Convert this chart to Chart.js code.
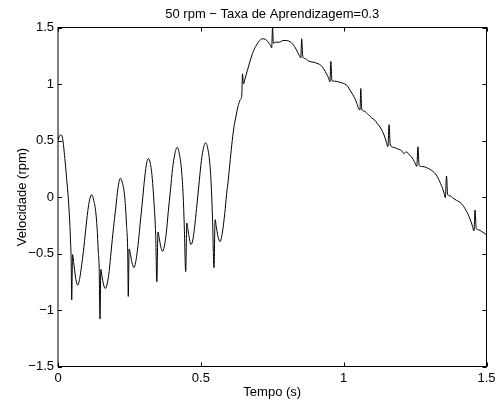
<!DOCTYPE html>
<html>
<head>
<meta charset="utf-8">
<script src="https://cdn.jsdelivr.net/npm/chart.js@4"></script>
<style>
  body { margin: 0; background: #fff; }
</style>
</head>
<body>
<canvas id="grafico" width="503" height="403"></canvas>
<script>
// valores
const tempo = [
  0.000, 0.005, 0.010, 0.016, 0.024, 0.030, 0.036, 0.041, 0.044, 0.046, 0.048, 0.051, 0.055, 0.062, 0.069, 0.076, 0.083, 0.089, 0.097,
  0.104, 0.111, 0.118, 0.125, 0.132, 0.137, 0.141, 0.144, 0.147, 0.150, 0.154, 0.159, 0.165, 0.172, 0.179, 0.186, 0.194,
  0.202, 0.210, 0.218, 0.226, 0.234, 0.240, 0.244, 0.246, 0.249, 0.253, 0.259, 0.266, 0.273, 0.280, 0.287, 0.295,
  0.302, 0.309, 0.316, 0.323, 0.330, 0.336, 0.342, 0.346, 0.350, 0.354, 0.360, 0.366, 0.372, 0.379, 0.386, 0.394,
  0.401, 0.409, 0.417, 0.425, 0.433, 0.438, 0.442, 0.447, 0.451, 0.455, 0.460, 0.465, 0.472, 0.478, 0.485, 0.493,
  0.500, 0.508, 0.517, 0.525, 0.532, 0.537, 0.541, 0.546, 0.550, 0.554, 0.560, 0.567, 0.575, 0.584, 0.590, 0.596,
  0.603, 0.610, 0.616, 0.622, 0.630, 0.638, 0.643, 0.646, 0.649, 0.655, 0.663, 0.672, 0.684, 0.695, 0.706, 0.716,
  0.726, 0.736, 0.744, 0.748, 0.751, 0.754, 0.762, 0.775, 0.788, 0.800, 0.812, 0.823, 0.833, 0.841, 0.847, 0.850,
  0.853, 0.857, 0.865, 0.876, 0.888, 0.899, 0.910, 0.920, 0.930, 0.940, 0.947, 0.952, 0.955, 0.959, 0.968, 0.981,
  0.993, 1.004, 1.014, 1.022, 1.031, 1.039, 1.046, 1.053, 1.057, 1.060, 1.063, 1.072, 1.086, 1.098, 1.109, 1.118,
  1.127, 1.136, 1.144, 1.150, 1.155, 1.159, 1.163, 1.175, 1.185, 1.195, 1.203, 1.211, 1.220, 1.229, 1.237, 1.244,
  1.250, 1.256, 1.260, 1.264, 1.275, 1.290, 1.302, 1.313, 1.323, 1.331, 1.339, 1.346, 1.352, 1.356, 1.360, 1.364,
  1.372, 1.383, 1.395, 1.407, 1.416, 1.424, 1.432, 1.439, 1.446, 1.451, 1.456, 1.460, 1.464, 1.472, 1.483, 1.492, 1.500
];
const velocidade = [
  0.50, 0.54, 0.55, 0.52, 0.34, 0.17, -0.01, -0.22, -0.40, -0.55, -0.91, -0.51, -0.58, -0.72, -0.78, -0.72, -0.60, -0.48, -0.29,
  -0.13, -0.02, 0.02, -0.03, -0.13, -0.28, -0.48, -0.62, -1.08, -0.64, -0.70, -0.77, -0.81, -0.77, -0.66, -0.48, -0.28,
  -0.10, 0.08, 0.165, 0.12, -0.01, -0.25, -0.48, -0.88, -0.46, -0.50, -0.58, -0.625, -0.56, -0.43, -0.25, -0.05,
  0.135, 0.28, 0.34, 0.30, 0.165, -0.05, -0.34, -0.75, -0.31, -0.36, -0.44, -0.48, -0.44, -0.32, -0.13, 0.07,
  0.25, 0.38, 0.44, 0.38, 0.22, 0.02, -0.25, -0.66, -0.23, -0.29, -0.37, -0.42, -0.38, -0.27, -0.10, 0.10,
  0.28, 0.42, 0.48, 0.42, 0.28, 0.07, -0.20, -0.625, -0.20, -0.26, -0.35, -0.395, -0.32, -0.14, 0.02, 0.15,
  0.33, 0.50, 0.62, 0.70, 0.80, 0.86, 0.89, 1.09, 1.00, 1.05, 1.12, 1.20, 1.29, 1.345, 1.385, 1.40,
  1.395, 1.37, 1.34, 1.32, 1.50, 1.36, 1.37, 1.37, 1.385, 1.385, 1.375, 1.35, 1.31, 1.27, 1.24, 1.23,
  1.40, 1.24, 1.225, 1.205, 1.195, 1.19, 1.18, 1.165, 1.135, 1.09, 1.055, 1.02, 1.20, 1.03, 1.025, 1.02,
  1.01, 1.00, 0.98, 0.947, 0.91, 0.873, 0.83, 0.78, 0.77, 0.96, 0.78, 0.76, 0.73, 0.70, 0.68, 0.65,
  0.62, 0.58, 0.53, 0.48, 0.445, 0.64, 0.46, 0.44, 0.43, 0.42, 0.41, 0.385, 0.40, 0.375, 0.357, 0.33,
  0.30, 0.27, 0.445, 0.28, 0.27, 0.26, 0.245, 0.225, 0.20, 0.165, 0.12, 0.077, 0.03, -0.006, 0.185, 0.02,
  0.01, -0.01, -0.03, -0.047, -0.07, -0.10, -0.135, -0.174, -0.22, -0.26, -0.30, -0.115, -0.28, -0.29, -0.305, -0.32, -0.335
];
const xTicks = [0, 0.5, 1, 1.5];
const yTicks = [-1.5, -1, -0.5, 0, 0.5, 1, 1.5];
const titulo = "50 rpm \u2212 Taxa de Aprendizagem=0.3";
const rotuloX = "Tempo (s)";
const rotuloY = "Velocidade (rpm)";

const fonte = '13px "Liberation Sans", Arial, sans-serif';

function formata(v) {
  return String(v).replace("-", "\u2212");
}

// caixa estilo matlab, ticks para dentro e textos
const moldura = {
  id: "moldura",
  afterDraw(chart) {
    const ctx = chart.ctx;
    const a = chart.chartArea;
    const sx = chart.scales.x, sy = chart.scales.y;
    ctx.save();
    ctx.strokeStyle = "#000";
    ctx.lineWidth = 1;
    ctx.strokeRect(a.left, a.top, a.right - a.left, a.bottom - a.top);
    ctx.beginPath();
    xTicks.forEach(t => {
      const x = Math.round(sx.getPixelForValue(t)) + 0.5;
      ctx.moveTo(x, a.bottom); ctx.lineTo(x, a.bottom - 4);
      ctx.moveTo(x, a.top); ctx.lineTo(x, a.top + 4);
    });
    yTicks.forEach(t => {
      const y = Math.round(sy.getPixelForValue(t)) + 0.5;
      ctx.moveTo(a.left, y); ctx.lineTo(a.left + 4, y);
      ctx.moveTo(a.right, y); ctx.lineTo(a.right - 4, y);
    });
    ctx.stroke();

    ctx.fillStyle = "#000";
    ctx.font = fonte;
    ctx.textAlign = "center";
    ctx.textBaseline = "alphabetic";
    const cx = (a.left + a.right) / 2;
    ctx.fillText(titulo, cx, 18);
    ctx.fillText(rotuloX, cx, 396);
    ctx.translate(26, (a.top + a.bottom) / 2);
    ctx.rotate(-Math.PI / 2);
    ctx.fillText(rotuloY, 0, 0);
    ctx.restore();
  }
};

new Chart(document.getElementById("grafico"), {
  type: "line",
  data: {
    datasets: [{
      data: tempo.map((t, i) => ({ x: t, y: velocidade[i] })),
      borderColor: "#000",
      borderWidth: 1,
      pointRadius: 0,
      fill: false,
      cubicInterpolationMode: "monotone"
    }]
  },
  options: {
    responsive: false,
    animation: false,
    layout: { padding: { top: 27.5, right: 16.5, left: 0, bottom: 0 } },
    plugins: { legend: { display: false }, tooltip: { enabled: false } },
    scales: {
      x: {
        type: "linear",
        min: 0, max: 1.5,
        afterFit: s => { s.height = 36.5; },
        afterBuildTicks: s => { s.ticks = xTicks.map(v => ({ value: v })); },
        grid: { display: false, drawTicks: false },
        border: { display: false },
        ticks: { color: "#000", font: { family: '"Liberation Sans", Arial', size: 13 }, padding: 4, maxRotation: 0, callback: v => formata(v) }
      },
      y: {
        type: "linear",
        min: -1.5, max: 1.5,
        afterFit: s => { s.width = 58; },
        afterBuildTicks: s => { s.ticks = yTicks.map(v => ({ value: v })); },
        grid: { display: false, drawTicks: false },
        border: { display: false },
        ticks: { color: "#000", font: { family: '"Liberation Sans", Arial', size: 13 }, padding: 4, callback: v => formata(v) }
      }
    }
  },
  plugins: [moldura]
});
</script>
</body>
</html>
